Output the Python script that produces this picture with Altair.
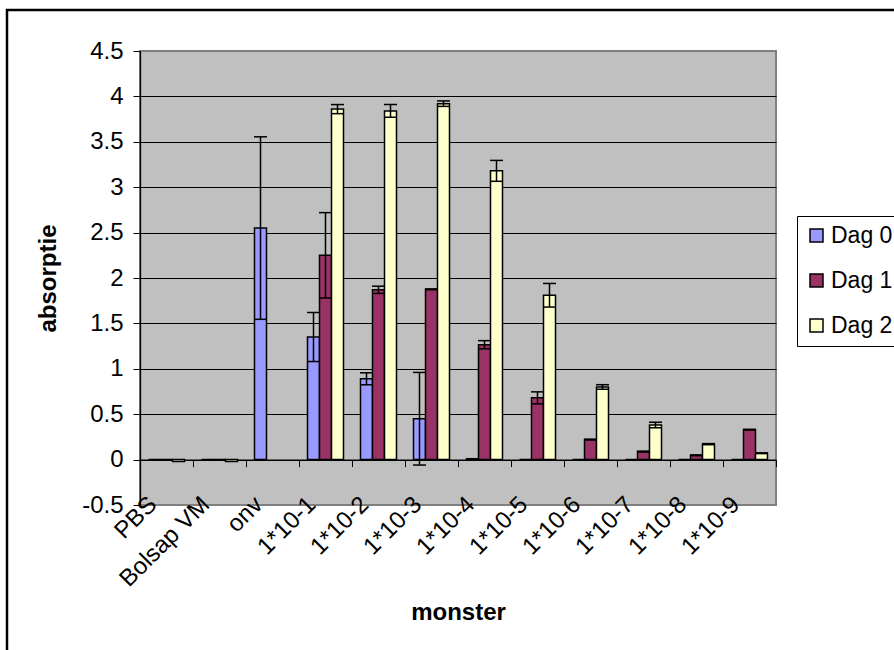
import altair as alt
import pandas as pd

categories = ["PBS", "Bolsap VM", "onv", "1*10-1", "1*10-2", "1*10-3",
              "1*10-4", "1*10-5", "1*10-6", "1*10-7", "1*10-8", "1*10-9"]
series = ["Dag 0", "Dag 1", "Dag 2"]
colors = ["#9999FF", "#993366", "#FFFFCC"]

dag0 = [0.0, 0.0, 2.55, 1.35, 0.89, 0.45, 0.01, 0.0, 0.0, 0.0, 0.0, 0.0]
dag0_err = [0, 0, 1.005, 0.27, 0.066, 0.51, 0, 0, 0, 0, 0, 0]
dag1 = [-0.005, -0.005, None, 2.25, 1.87, 1.875, 1.265, 0.68, 0.22, 0.088, 0.047, 0.33]
dag1_err = [0, 0, None, 0.47, 0.04, 0.004, 0.045, 0.066, 0.004, 0.004, 0.004, 0.004]
dag2 = [-0.02, -0.02, None, 3.86, 3.84, 3.92, 3.18, 1.81, 0.80, 0.38, 0.17, 0.07]
dag2_err = [0, 0, None, 0.05, 0.07, 0.03, 0.115, 0.13, 0.025, 0.03, 0.006, 0.004]
y_ticks = [-0.5, 0, 0.5, 1, 1.5, 2, 2.5, 3, 3.5, 4, 4.5]

rows = []
for s, vals, errs in zip(series, [dag0, dag1, dag2], [dag0_err, dag1_err, dag2_err]):
    for c, v, e in zip(categories, vals, errs):
        if v is None:
            continue
        rows.append({"cat": c, "series": s, "value": v, "err": e,
                     "low": v - e, "high": v + e})
df = pd.DataFrame(rows)

FONT = "Liberation Sans"
W, H = 636, 454

x_axis = alt.Axis(
    title="monster", labelAngle=-45, labelAlign="right", labelBaseline="middle",
    labelFont=FONT, labelFontSize=24, labelColor="black", labelPadding=34,
    labelOffset=-14, labelOverlap=False, offset=-45.4,
    domainColor="black", domainWidth=1.3, tickColor="black", tickSize=7,
    tickWidth=1, tickBand="extent", grid=False,
    titleFont=FONT, titleFontSize=24, titleFontWeight="bold", titleColor="black",
    titleY=160, titleBaseline="alphabetic",
)
y_axis = alt.Axis(
    title="absorptie", values=y_ticks, labelExpr="datum.value + ''",
    labelFont=FONT, labelFontSize=24, labelColor="black", labelPadding=10,
    tickColor="black", tickSize=7, tickWidth=1,
    domainColor="black", domainWidth=1.3,
    grid=True, gridColor="black", gridWidth=1,
    gridOpacity={"condition": {"test": "datum.value < -0.4 || datum.value > 4.4", "value": 0}, "value": 1},
    titleFont=FONT, titleFontSize=24, titleFontWeight="bold", titleColor="black",
    titleAngle=-90, titleX=-85, titleY=H / 2, titleBaseline="alphabetic",
)

x_enc = alt.X("cat:N", sort=categories, scale=alt.Scale(paddingInner=0, paddingOuter=0), axis=x_axis)
y_scale = alt.Scale(domain=[-0.5, 4.5], nice=False, zero=False)
xo_enc = alt.XOffset("series:N", sort=series, scale=alt.Scale(paddingInner=0, paddingOuter=0.708))

base = alt.Chart(df)

bars = base.mark_bar(stroke="black", strokeWidth=1.5).encode(
    x=x_enc,
    xOffset=xo_enc,
    y=alt.Y("value:Q", scale=y_scale, axis=y_axis),
    color=alt.Color("series:N", sort=series,
                    scale=alt.Scale(domain=series, range=colors),
                    legend=alt.Legend(
                        title=None, orient="none", legendX=657, legendY=165,
                        fillColor="white", strokeColor="black",
                        padding=8, rowPadding=21, symbolType="square",
                        symbolSize=169, symbolStrokeColor="black",
                        symbolStrokeWidth=1.5, labelFont=FONT, labelFontSize=23,
                        labelColor="black", labelOffset=3, cornerRadius=0,
                    )),
)

err_df = base.transform_filter("datum.err > 0")

err_rule = err_df.mark_rule(color="black", strokeWidth=1.5).encode(
    x=x_enc, xOffset=xo_enc,
    y=alt.Y("low:Q", scale=y_scale, axis=y_axis), y2="high:Q",
)
cap_hi = err_df.mark_tick(color="black", size=13, thickness=1.5, opacity=1).encode(
    x=x_enc, xOffset=xo_enc,
    y=alt.Y("high:Q", scale=y_scale, axis=y_axis),
)
cap_lo = err_df.mark_tick(color="black", size=13, thickness=1.5, opacity=1).encode(
    x=x_enc, xOffset=xo_enc,
    y=alt.Y("low:Q", scale=y_scale, axis=y_axis),
)

border = alt.Chart(pd.DataFrame({"a": [0]})).mark_rect(
    fill=None, fillOpacity=0, stroke="black", strokeWidth=2.5
).encode(
    x=alt.value(-133), y=alt.value(-41), x2=alt.value(900), y2=alt.value(700)
)

chart = alt.layer(border, bars, err_rule, cap_hi, cap_lo).properties(
    width=W, height=H,
    autosize=alt.AutoSizeParams(type="none"),
    padding={"left": 140, "top": 51, "right": 894 - 140 - W, "bottom": 650 - 51 - H},
    background="white",
).configure_view(
    fill="#C0C0C0", stroke="#808080", strokeWidth=2
)

chart.save("out.html", embed_options={"renderer": "svg", "actions": False})
